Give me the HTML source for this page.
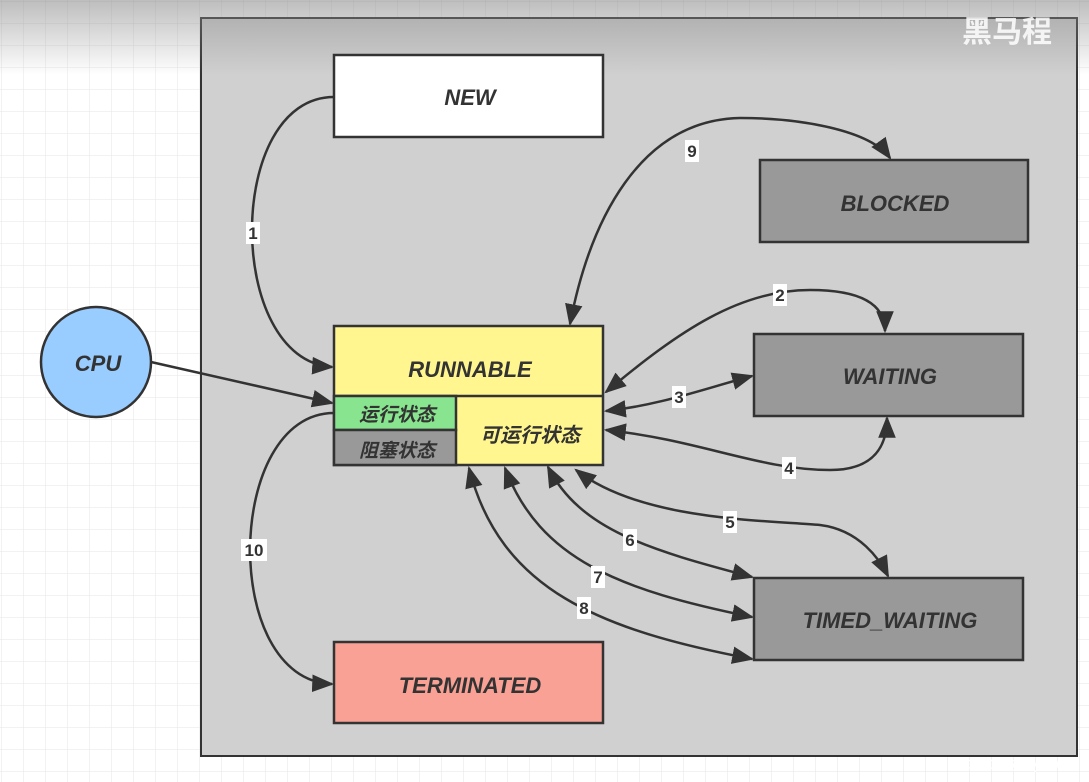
<!DOCTYPE html>
<html><head><meta charset="utf-8"><style>
html,body{margin:0;padding:0;width:1089px;height:782px;overflow:hidden;background:#fff}
svg{display:block}
text{font-family:"Liberation Sans","Noto Sans CJK SC",sans-serif;font-weight:bold;font-style:italic;fill:#333}
.n{font-style:normal;font-size:17px;fill:#333}
</style></head><body>
<svg width="1089" height="782" viewBox="0 0 1089 782" xmlns="http://www.w3.org/2000/svg">
<defs>
<pattern id="g" width="22" height="22" patternUnits="userSpaceOnUse" x="2" y="2">
<path d="M22 0V22H0" fill="none" stroke="#e6e6e6" stroke-width="1"/></pattern>
<linearGradient id="tg" x1="0" y1="0" x2="0" y2="1">
<stop offset="0" stop-color="#888" stop-opacity="0.55"/><stop offset="1" stop-color="#888" stop-opacity="0"/></linearGradient>
<marker id="b" viewBox="0 0 10 10" refX="9" refY="5" markerWidth="22" markerHeight="22" orient="auto-start-reverse" markerUnits="userSpaceOnUse">
<path d="M0 1L10 5L0 9Z" fill="#333"/></marker>
</defs>
<rect width="1089" height="782" fill="url(#g)"/>
<rect x="201" y="18" width="876" height="738" fill="#d0d0d0" stroke="#333" stroke-width="2"/>
<rect width="1089" height="75" fill="url(#tg)"/>
<text x="962" y="42" style="font-style:normal;font-size:30px;fill:#fff;opacity:.85">黑马程</text>

<g fill="none" stroke="#333" stroke-width="2.5">
<path d="M334 97 C225 97 225 360 332 367" marker-end="url(#b)"/>
<path d="M151 362 L332 403" marker-end="url(#b)"/>
<path d="M570 324 C590 220 640 120 740 118 C800 118 870 130 890 158" marker-start="url(#b)" marker-end="url(#b)"/>
<path d="M606 392 C680 330 740 290 810 290 C870 290 885 310 885 331" marker-start="url(#b)" marker-end="url(#b)"/>
<path d="M606 411 C660 405 700 390 752 376" marker-start="url(#b)" marker-end="url(#b)"/>
<path d="M606 430 C700 440 760 470 830 470 C875 470 887 445 887 418" marker-start="url(#b)" marker-end="url(#b)"/>
<path d="M576 470 C640 520 760 520 820 525 C860 530 880 560 888 576" marker-start="url(#b)" marker-end="url(#b)"/>
<path d="M548 467 C580 530 650 550 752 577" marker-start="url(#b)" marker-end="url(#b)"/>
<path d="M505 468 C540 560 620 590 752 617" marker-start="url(#b)" marker-end="url(#b)"/>
<path d="M469 468 C500 590 600 630 752 659" marker-start="url(#b)" marker-end="url(#b)"/>
<path d="M334 413 C225 413 220 680 332 684" marker-end="url(#b)"/>
</g>

<g>
<rect x="246" y="222" width="14" height="22" fill="#fff"/><text class="n" x="253" y="239" text-anchor="middle">1</text>
<rect x="685" y="140" width="14" height="22" fill="#fff"/><text class="n" x="692" y="157" text-anchor="middle">9</text>
<rect x="773" y="284" width="14" height="22" fill="#fff"/><text class="n" x="780" y="301" text-anchor="middle">2</text>
<rect x="672" y="386" width="14" height="22" fill="#fff"/><text class="n" x="679" y="403" text-anchor="middle">3</text>
<rect x="782" y="457" width="14" height="22" fill="#fff"/><text class="n" x="789" y="474" text-anchor="middle">4</text>
<rect x="723" y="511" width="14" height="22" fill="#fff"/><text class="n" x="730" y="528" text-anchor="middle">5</text>
<rect x="623" y="529" width="14" height="22" fill="#fff"/><text class="n" x="630" y="546" text-anchor="middle">6</text>
<rect x="591" y="566" width="14" height="22" fill="#fff"/><text class="n" x="598" y="583" text-anchor="middle">7</text>
<rect x="577" y="597" width="14" height="22" fill="#fff"/><text class="n" x="584" y="614" text-anchor="middle">8</text>
<rect x="241" y="539" width="26" height="22" fill="#fff"/><text class="n" x="254" y="556" text-anchor="middle">10</text>
</g>

<g stroke="#333" stroke-width="2.5">
<rect x="334" y="55" width="269" height="82" fill="#fff"/>
<rect x="760" y="160" width="268" height="82" fill="#999"/>
<rect x="754" y="334" width="269" height="82" fill="#999"/>
<rect x="754" y="578" width="269" height="82" fill="#999"/>
<rect x="334" y="642" width="269" height="81" fill="#f9a195"/>
<rect x="334" y="326" width="269" height="139" fill="#fff68f"/>
<line x1="334" y1="396" x2="603" y2="396"/>
<rect x="334" y="396" width="122" height="34" fill="#88e48e"/>
<rect x="334" y="430" width="122" height="35" fill="#999"/>
<circle cx="96" cy="362" r="55" fill="#99ccff"/>
</g>

<g font-size="22" text-anchor="middle">
<text x="470" y="105">NEW</text>
<text x="895" y="211">BLOCKED</text>
<text x="890" y="384">WAITING</text>
<text x="890" y="628">TIMED_WAITING</text>
<text x="470" y="693">TERMINATED</text>
<text x="470" y="377">RUNNABLE</text>
<text x="98" y="371">CPU</text>
<text x="397" y="421" font-size="19">运行状态</text>
<text x="397" y="457" font-size="19">阻塞状态</text>
<text x="530" y="442" font-size="20">可运行状态</text>
</g>
<text x="1072" y="769" text-anchor="end" style="font-style:normal;font-weight:normal;font-size:14px;fill:#fff">CSDN @Cyan66</text>
</svg>
</body></html>
